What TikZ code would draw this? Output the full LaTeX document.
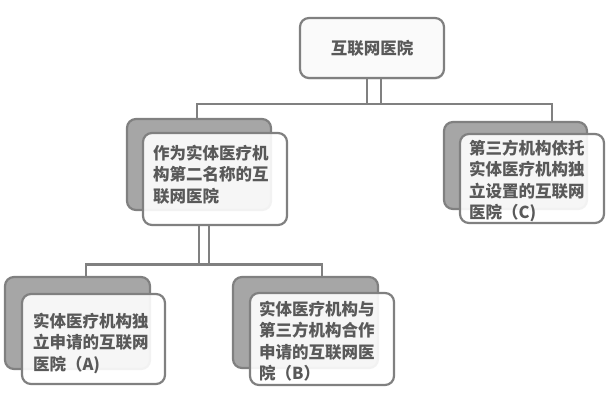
\documentclass[tikz,border=0pt]{standalone}
\usepackage{fontspec}
\setmainfont{Noto Sans CJK SC}
\usetikzlibrary{shadows}

\definecolor{linegray}{RGB}{128,128,128}
\definecolor{backgray}{RGB}{166,166,166}
\definecolor{textgray}{RGB}{89,89,89}

\begin{document}
\begin{tikzpicture}[x=1pt, y=-1pt, line width=2.2pt, every node/.style={font=\fontsize{16.5}{21.5}\selectfont\bfseries, text=textgray},
	back/.style={draw=linegray, fill=backgray, rounded corners=9pt, inner sep=0pt},
	front/.style={draw=linegray, fill=white, fill opacity=0.9, draw opacity=1, rounded corners=9pt, inner sep=0pt},
	txt/.style={anchor=north west, inner sep=0pt, align=left},
	link/.style={draw=linegray, line width=2.4pt}]
	\useasboundingbox (0,0) rectangle (609,409);
	% root
	\node[draw=linegray, fill=gray!4, rounded corners=9pt, minimum width=144pt, minimum height=60pt, drop shadow={shadow xshift=0.5pt, shadow yshift=-1.5pt, fill=gray!60}] (top) at (372,48) {互联网医院};
	% second level
	\node[back, minimum width=144pt, minimum height=91pt] (mBack) at (199,164.5) {};
	\node[front, minimum width=144pt, minimum height=92pt] (mFront) at (215,179) {};
	\node[txt] (mText) at (152,144) {作为实体医疗机\\构第二名称的互\\联网医院};
	\node[back, minimum width=143pt, minimum height=87pt] (cBack) at (515.5,165.5) {};
	\node[front, minimum width=144pt, minimum height=89pt] (cFront) at (532,178.5) {};
	\node[txt] (cText) at (468,139) {第三方机构依托\\实体医疗机构独\\立设置的互联网\\医院（C)};
	% third level
	\node[back, minimum width=145pt, minimum height=92pt] (aBack) at (77.5,323) {};
	\node[front, minimum width=143pt, minimum height=90pt] (aFront) at (93.5,339) {};
	\node[txt] (aText) at (32,312) {实体医疗机构独\\立申请的互联网\\医院（A)};
	\node[back, minimum width=145pt, minimum height=91pt] (bBack) at (305.5,322.5) {};
	\node[front, minimum width=144pt, minimum height=92pt] (bFront) at (322,339) {};
	\node[txt] (bText) at (258,300) {实体医疗机构与\\第三方机构合作\\申请的互联网医\\院（B）};
	% connectors
	\coordinate (busL) at (197,104);
	\coordinate (busR) at (552,104);
	\coordinate (subL) at (86,264.5);
	\coordinate (subR) at (322,264.5);
	\foreach \dx in {-5,9} {\draw[link] ([xshift=\dx pt]top.south) -- ([xshift=\dx pt]top.south |- busL);}
	\draw[link] (busL |- mBack.north) -- (busL) -- (busR) -- (busR |- cBack.north);
	\foreach \dx in {-16,-6} {\draw[link] ([xshift=\dx pt]mFront.south) -- ([xshift=\dx pt]mFront.south |- subL);}
	\draw[link] (subL |- aBack.north) -- (subL) -- (subR) -- (subR |- bBack.north);
\end{tikzpicture}
\end{document}
